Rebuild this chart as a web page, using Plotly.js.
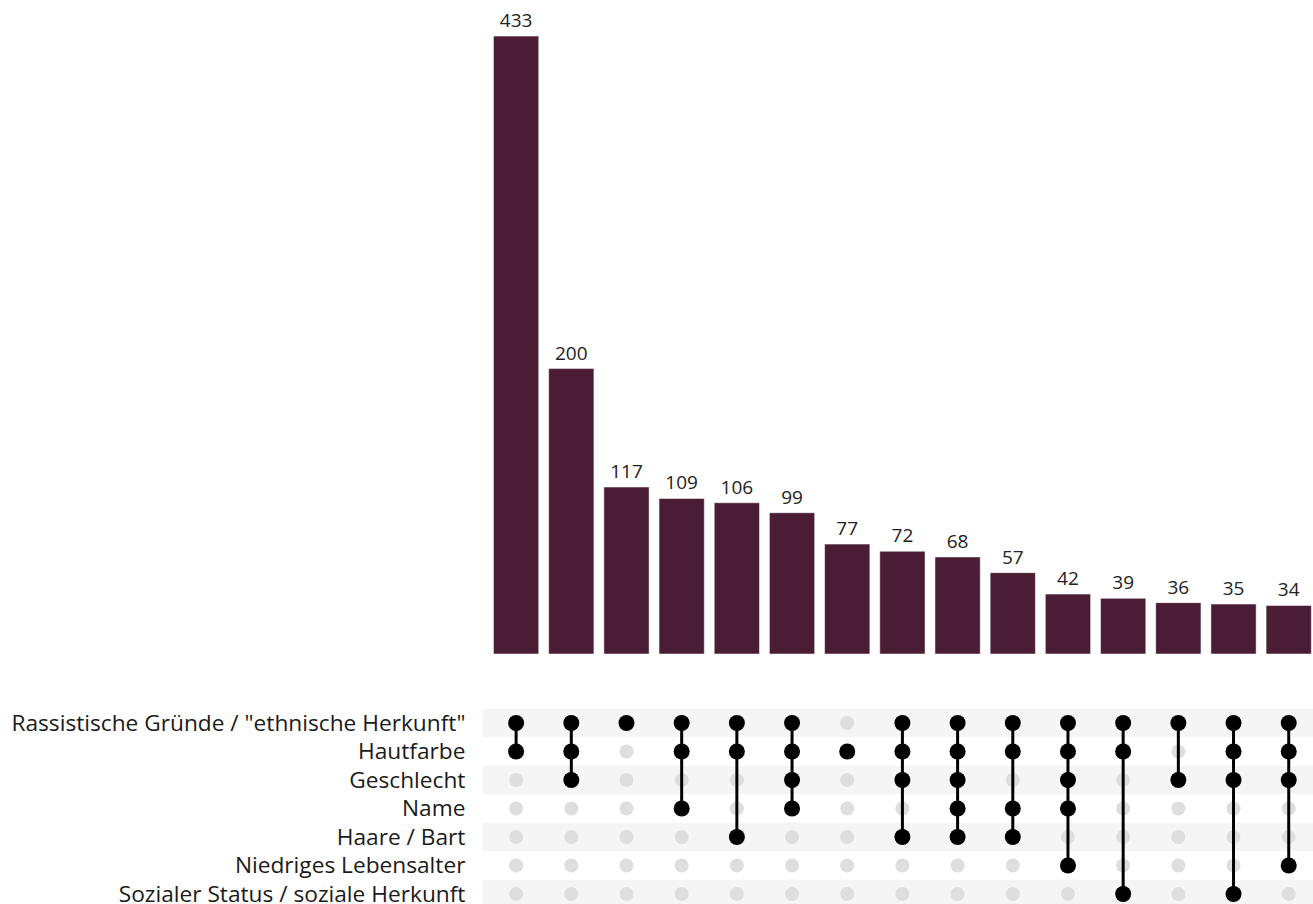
<!DOCTYPE html>
<html>
<head>
<meta charset="utf-8">
<script src="https://cdn.plot.ly/plotly-3.0.1.min.js"></script>
<style>html,body{margin:0;padding:0;background:#fff;}#chart{width:1313px;height:904px;}</style>
</head>
<body>
<div id="chart"></div>
<script>
// Set names (matrix rows, top to bottom)
const setNames = [
  'Rassistische Gründe / "ethnische Herkunft"',
  'Hautfarbe',
  'Geschlecht',
  'Name',
  'Haare / Bart',
  'Niedriges Lebensalter',
  'Sozialer Status / soziale Herkunft'
];
// Intersection sizes (bars, left to right)
const counts = [433, 200, 117, 109, 106, 99, 77, 72, 68, 57, 42, 39, 36, 35, 34];
// Membership: indices of setNames in each intersection
const members = [
  [0,1],
  [0,1,2],
  [0],
  [0,1,3],
  [0,1,4],
  [0,1,2,3],
  [1],
  [0,1,2,4],
  [0,1,2,3,4],
  [0,1,3,4],
  [0,1,2,3,5],
  [0,1,6],
  [0,2],
  [0,1,2,6],
  [0,1,2,5]
];

const barColor = '#4a1d34';
const W = 1313, H = 904;
const xIdx = counts.map((_, i) => i);

const traces = [];
traces.push({
  type: 'bar', x: xIdx, y: counts, xaxis: 'x', yaxis: 'y',
  marker: {color: barColor, line: {color: 'rgba(255,255,255,0.5)', width: 1}},
  text: counts.map(String), textposition: 'outside', cliponaxis: false,
  textfont: {family: 'Open Sans', size: 19, color: '#222'},
  hoverinfo: 'x+y', showlegend: false
});

// grey background dots
const gx = [], gy = [];
xIdx.forEach(i => setNames.forEach((_, r) => { if (!members[i].includes(r)) { gx.push(i); gy.push(r); } }));
traces.push({
  type: 'scatter', mode: 'markers', x: gx, y: gy, xaxis: 'x', yaxis: 'y2',
  marker: {color: '#dedede', size: 14}, hoverinfo: 'skip', showlegend: false
});
// connecting lines
xIdx.forEach(i => {
  const m = members[i];
  if (m.length > 1) {
    traces.push({
      type: 'scatter', mode: 'lines', x: [i, i], y: [Math.min(...m), Math.max(...m)],
      xaxis: 'x', yaxis: 'y2', line: {color: '#000', width: 3},
      hoverinfo: 'skip', showlegend: false
    });
  }
});
// member dots
const mx = [], my = [];
xIdx.forEach(i => members[i].forEach(r => { mx.push(i); my.push(r); }));
traces.push({
  type: 'scatter', mode: 'markers', x: mx, y: my, xaxis: 'x', yaxis: 'y2',
  marker: {color: '#000', size: 16}, hoverinfo: 'skip', showlegend: false
});

// stripes
const shapes = [];
setNames.forEach((_, r) => {
  if (r % 2 === 0) {
    shapes.push({type: 'rect', xref: 'x domain', yref: 'y2', x0: 0, x1: 1, y0: r - 0.5, y1: r + 0.5,
      fillcolor: '#f5f5f5', line: {width: 0}, layer: 'below'});
  }
});

const layout = {
  width: W, height: H,
  margin: {l: 0, r: 0, t: 0, b: 0},
  paper_bgcolor: '#fff', plot_bgcolor: 'rgba(0,0,0,0)',
  bargap: 0.18,
  showlegend: false,
  xaxis: {domain: [483 / W, 1], range: [-0.6, 14.44], showticklabels: false, showgrid: false,
    zeroline: false, showline: false, ticks: '', fixedrange: true},
  yaxis: {domain: [(H - 654) / H, 1], range: [0, 654 / 1.427], showticklabels: false, showgrid: false,
    zeroline: false, showline: false, ticks: ''},
  yaxis2: {domain: [0, (H - 709) / H], range: [6.35, -0.49], anchor: 'x',
    tickvals: setNames.map((_, r) => r), ticktext: setNames,
    tickfont: {family: 'Open Sans', size: 22.7, color: '#1a1a1a'},
    ticklabeloverflow: 'allow',
    ticks: 'outside', ticklen: 12, tickcolor: 'rgba(0,0,0,0)',
    showgrid: false, zeroline: false, showline: false},
  shapes: shapes
};

Plotly.newPlot('chart', traces, layout, {displayModeBar: false, staticPlot: true});
</script>
</body>
</html>
